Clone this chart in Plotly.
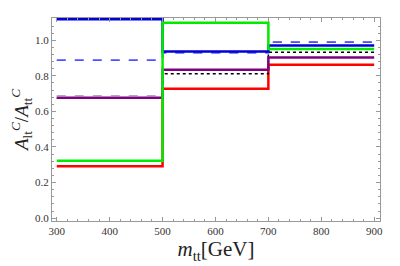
import plotly.graph_objects as go

edges = [300, 500, 700, 900]
red = [0.292, 0.727, 0.862]
black_dot = [0.676, 0.811, 0.933]
purple = [0.677, 0.834, 0.903]
gray_dash = [0.686, 0.930, 0.989]
blue_dash = [0.888, 0.930, 0.989]
blue = [1.118, 0.937, 0.970]
green = [0.323, 1.099, 0.951]

xticks = [300, 400, 500, 600, 700, 800, 900]
yticks = [0.0, 0.2, 0.4, 0.6, 0.8, 1.0]

def step(vals):
    return vals + [vals[-1]]

series = [
    (red, "rgb(255,0,0)", "solid", 2.5),
    (black_dot, "rgb(0,0,0)", "dot", 1.5),
    (purple, "rgb(128,0,128)", "solid", 2.5),
    (gray_dash, "rgb(160,130,175)", "dash", 1.5),
    (blue_dash, "rgb(80,80,255)", "dash", 1.8),
    (blue, "rgb(0,0,215)", "solid", 2.5),
    (green, "rgb(0,235,0)", "solid", 2.5),
]

fig = go.Figure()
for vals, col, dash, w in series:
    fig.add_trace(go.Scatter(x=edges, y=step(vals), mode="lines", line_shape="hv",
                             line=dict(color=col, width=w, dash=dash), showlegend=False,
                             hoverinfo="skip"))

serif = "Liberation Serif, Times New Roman, serif"
axis_common = dict(showgrid=False, zeroline=False, showline=True, linecolor="#999999", linewidth=1,
                   mirror="allticks", ticks="inside", ticklen=4, tickcolor="#999999",
                   tickfont=dict(family=serif, size=11, color="#333333"))

fig.update_xaxes(range=[291, 911], tickvals=xticks, ticktext=[str(v) for v in xticks],
                 minor=dict(dtick=20, tick0=300, ticks="inside", ticklen=2, tickcolor="#999999"),
                 title=dict(text="<i>m</i><sub>tt</sub>[GeV]", font=dict(family=serif, size=21, color="#222"),
                            standoff=4),
                 **axis_common)
fig.update_yaxes(range=[-0.016, 1.125], tickvals=yticks, ticktext=[f"{v:.1f}" for v in yticks],
                 minor=dict(dtick=0.04, tick0=0, ticks="inside", ticklen=2, tickcolor="#999999"),
                 title=dict(text="<i>A</i><sub>lt</sub><sup><i>C</i></sup>/<i>A</i><sub>tt</sub><sup><i>C</i></sup>",
                            font=dict(family=serif, size=19, color="#222"), standoff=2),
                 **axis_common)

# page body has an 8px margin: shrink the figure so the plot area lands where the reference has it
fig.update_layout(width=392, height=258, margin=dict(l=44, r=20, t=10, b=45),
                  plot_bgcolor="white", paper_bgcolor="white")

fig.write_html("out.html")
